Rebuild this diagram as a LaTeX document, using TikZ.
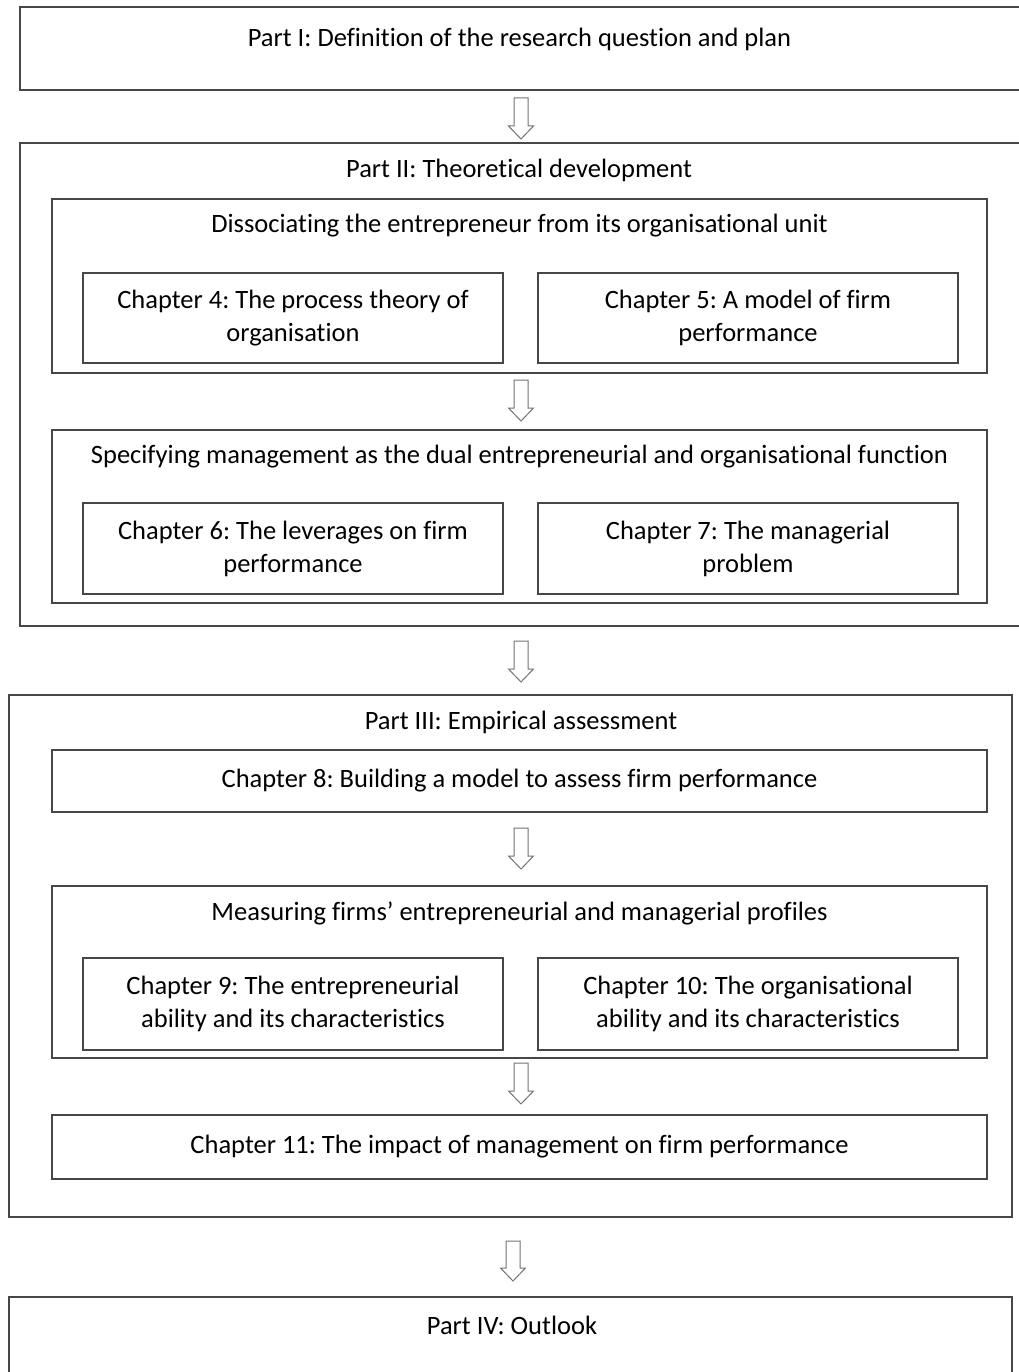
\documentclass[tikz,border=0pt]{standalone}
\usepackage{fontspec}
\setmainfont{Carlito}[Ligatures=NoCommon]
\usetikzlibrary{fit}
\frenchspacing
\newcommand\hollowarrow[4]{% name, x, ytop, ybottom
  \coordinate (#1) at (#2,#3);
  \draw[arrowline] (#1) ++(-7,0) -- ++(14,0) -- ++(0,{#4-#3+13}) -- ++(5.5,0)
    -- (#2,#4) -- ++(-12.5,13) -- ++(5.5,0) -- cycle;
}
\begin{document}
\begin{tikzpicture}[x=1pt,y=1pt,
  bx/.style={draw=black!72, line width=1.3pt, inner sep=0pt, fill=none},
  txt/.style={font=\fontsize{26.5}{33}\selectfont, text=black, inner sep=0pt, align=center},
  arrowline/.style={draw=black!55, line width=1pt, fill=white, line join=miter}
]
\useasboundingbox (0,0) rectangle (1018,-1372);
\fill[white] (0,0) rectangle (1018,-1372);

% Part I
\node[bx, fit={(20,-7) (1030,-90)}] (p1) {};
\node[txt] (p1t) at (519.5,-39) {Part I: Definition of the research question and plan};

\hollowarrow{a1}{521}{-98}{-139}

% Part II
\node[bx, fit={(20,-143) (1030,-626)}] (p2) {};
\node[txt] (p2t) at (519,-170) {Part II: Theoretical development};

\node[bx, fit={(52,-199) (987,-373)}] (g1) {};
\node[txt] (g1t) at (519.5,-226) {Dissociating the entrepreneur from its organisational unit};
\node[bx, fit={(83,-273) (503,-363)}] (c4) {};
\node[txt] at (c4.center) (c4t) {Chapter 4: The process theory of\\organisation};
\node[bx, fit={(538,-273) (958,-363)}] (c5) {};
\node[txt] at (c5.center) (c5t) {Chapter 5: A model of firm\\performance};

\hollowarrow{a2}{521}{-380}{-421}

\node[bx, fit={(52,-430) (987,-603)}] (g2) {};
\node[txt] (g2t) at (519.5,-457) {Specifying management as the dual entrepreneurial and organisational function};
\node[bx, fit={(83,-503) (503,-594)}] (c6) {};
\node[txt] at (c6.center) (c6t) {Chapter 6: The leverages on firm\\performance};
\node[bx, fit={(538,-503) (958,-594)}] (c7) {};
\node[txt] at (c7.center) (c7t) {Chapter 7: The managerial\\problem};

\hollowarrow{a3}{521}{-641}{-682}

% Part III
\node[bx, fit={(9,-695) (1012,-1217)}] (p3) {};
\node[txt] (p3t) at (521,-722) {Part III: Empirical assessment};
\node[bx, fit={(52,-750) (987,-812)}] (c8) {};
\node[txt] at (c8.center) (c8t) {Chapter 8: Building a model to assess firm performance};

\hollowarrow{a4}{521}{-828}{-869}

\node[bx, fit={(52,-886) (987,-1058)}] (g3) {};
\node[txt] (g3t) at (519.5,-913) {Measuring firms’ entrepreneurial and managerial profiles};
\node[bx, fit={(83,-958) (503,-1050)}] (c9) {};
\node[txt] at (c9.center) (c9t) {Chapter 9: The entrepreneurial\\ability and its characteristics};
\node[bx, fit={(538,-958) (958,-1050)}] (c10) {};
\node[txt] at (c10.center) (c10t) {Chapter 10: The organisational\\ability and its characteristics};

\hollowarrow{a5}{521}{-1063}{-1104}

\node[bx, fit={(52,-1115) (987,-1179)}] (c11) {};
\node[txt] at (c11.center) (c11t) {Chapter 11: The impact of management on firm performance};

\hollowarrow{a6}{513}{-1241}{-1281}

% Part IV
\node[bx, fit={(9,-1297) (1012,-1385)}] (p4) {};
\node[txt] (p4t) at (512,-1325) {Part IV: Outlook};
\end{tikzpicture}
\end{document}
